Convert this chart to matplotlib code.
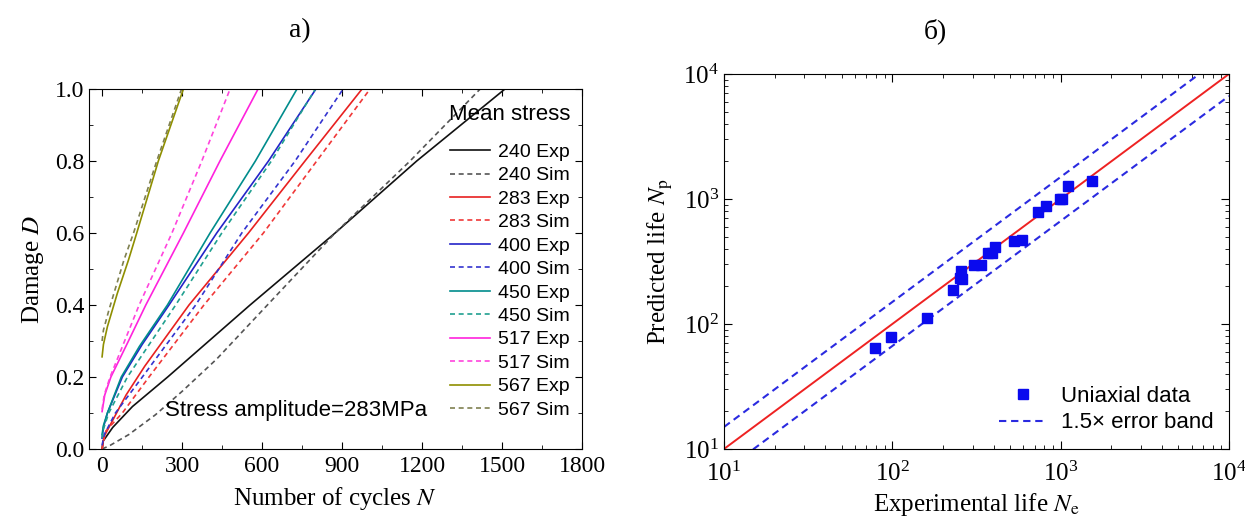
import matplotlib
matplotlib.use("Agg")
import matplotlib.pyplot as plt
import numpy as np
from matplotlib.ticker import MultipleLocator, LogLocator, NullFormatter

plt.rcParams['font.family'] = ['Liberation Serif', 'DejaVu Serif']
plt.rcParams['mathtext.fontset'] = 'stix'

# ---- panel a: damage curves (cycles N, damage D) ----
n_240_exp = [0, 4, 40, 114, 246, 555, 874, 1180, 1511]
d_240_exp = [0, 0.022, 0.06, 0.118, 0.2, 0.4, 0.6, 0.8, 1.0]
n_240_sim = [0, 30, 100, 200, 300, 430, 620, 874, 1155, 1418]
d_240_sim = [0, 0.01, 0.04, 0.095, 0.16, 0.25, 0.4, 0.6, 0.8, 1.0]
n_283_exp = [0, 7, 40, 90, 160, 326, 549, 761, 975]
d_283_exp = [0, 0.034, 0.08, 0.15, 0.23, 0.4, 0.6, 0.8, 1.0]
n_283_sim = [0, 14, 76, 176, 382, 605, 805, 1005]
d_283_sim = [0, 0.05, 0.1, 0.2, 0.4, 0.6, 0.8, 1.0]
n_400_exp = [0, 5, 20, 76, 150, 251, 430, 624, 802]
d_400_exp = [0.03, 0.06, 0.1, 0.2, 0.29, 0.4, 0.6, 0.8, 1.0]
n_400_sim = [0, 8, 50, 151, 351, 524, 724, 904]
d_400_sim = [0.01, 0.04, 0.1, 0.2, 0.4, 0.6, 0.8, 1.0]
n_450_exp = [0, 5, 20, 72, 140, 245, 405, 575, 731]
d_450_exp = [0.04, 0.065, 0.1, 0.2, 0.285, 0.4, 0.6, 0.8, 1.0]
n_450_sim = [0, 5, 25, 95, 276, 449, 635, 800]
d_450_sim = [0.03, 0.055, 0.1, 0.2, 0.4, 0.6, 0.8, 1.0]
n_517_exp = [0, 10, 33, 95, 164, 305, 442, 585]
d_517_exp = [0.104, 0.15, 0.2, 0.294, 0.4, 0.6, 0.8, 1.0]
n_517_sim = [0, 8, 30, 139, 262, 374, 480]
d_517_sim = [0.11, 0.15, 0.2, 0.4, 0.6, 0.8, 1.0]
n_567_exp = [0, 5, 20, 57, 99, 130, 211, 305]
d_567_exp = [0.256, 0.29, 0.34, 0.432, 0.525, 0.6, 0.8, 1.0]
n_567_sim = [0, 5, 26, 82, 118, 205, 298]
d_567_sim = [0.30, 0.33, 0.387, 0.525, 0.6, 0.8, 1.0]

# ---- panel b: predicted vs experimental life ----
exp_life = [79, 98, 160, 230, 252, 255, 258, 307, 336, 372, 389, 408,
            531, 587, 738, 819, 991, 1013, 1101, 1530]
pred_life = [64, 78, 112, 187, 232, 265, 228, 298, 298, 368, 368, 415,
             461, 470, 791, 884, 995, 995, 1271, 1400]

fig = plt.figure(figsize=(12.45, 5.18), dpi=100)
ax1 = fig.add_axes([0.0715, 0.1332, 0.396, 0.695])
ax2 = fig.add_axes([0.5815, 0.1332, 0.4056, 0.7239])

dash = (0, (3.0, 2.2))
series = [
    (n_240_exp, d_240_exp, '#111111', '-', '240 Exp'),
    (n_240_sim, d_240_sim, '#555555', dash, '240 Sim'),
    (n_283_exp, d_283_exp, '#e82020', '-', '283 Exp'),
    (n_283_sim, d_283_sim, '#f03838', dash, '283 Sim'),
    (n_400_exp, d_400_exp, '#2424c8', '-', '400 Exp'),
    (n_400_sim, d_400_sim, '#3434d0', dash, '400 Sim'),
    (n_450_exp, d_450_exp, '#008c8c', '-', '450 Exp'),
    (n_450_sim, d_450_sim, '#20a090', dash, '450 Sim'),
    (n_517_exp, d_517_exp, '#ff22dd', '-', '517 Exp'),
    (n_517_sim, d_517_sim, '#ff44dd', dash, '517 Sim'),
    (n_567_exp, d_567_exp, '#8f8f00', '-', '567 Exp'),
    (n_567_sim, d_567_sim, '#7f8050', dash, '567 Sim'),
]
for n, d, c, ls, lab in series:
    ax1.plot(n, d, color=c, linestyle=ls, lw=1.2, label=lab)

ax1.set_xlim(-49, 1800)
ax1.set_ylim(0, 1.0)
ax1.xaxis.set_major_locator(MultipleLocator(300))
ax1.xaxis.set_minor_locator(MultipleLocator(150))
ax1.yaxis.set_major_locator(MultipleLocator(0.2))
ax1.yaxis.set_minor_locator(MultipleLocator(0.1))
ax1.yaxis.set_major_formatter(matplotlib.ticker.FormatStrFormatter('%.1f'))
ax1.tick_params(which='both', direction='in', top=True, right=True, labelsize=17)
ax1.tick_params(axis='x', pad=5)
ax1.tick_params(which='major', length=5)
ax1.tick_params(which='minor', length=3)
ax1.set_xlabel('Number of cycles $N$', fontsize=18, labelpad=6)
ax1.set_ylabel('Damage $D$', fontsize=18, labelpad=6)

leg = ax1.legend(loc='upper right', bbox_to_anchor=(1.0, 0.99), frameon=False,
                 title='Mean stress', prop={'family': 'Liberation Sans', 'size': 14},
                 labelspacing=0.3, handlelength=2.1, handletextpad=0.4,
                 borderaxespad=0.2)
leg.get_title().set_fontfamily('Liberation Sans')
leg.get_title().set_fontsize(16)
leg._legend_box.sep = 13

ax1.text(236, 0.108, 'Stress amplitude=283MPa', family='Liberation Sans',
         fontsize=16, ha='left', va='center')

# panel b
lim = [10, 1e4]
ax2.plot(lim, lim, color='#ee2222', lw=1.4)
ax2.plot([10, 1e4], [15, 1.5e4], color='#2a2ae0', lw=1.5, linestyle=(0, (3.5, 2.3)),
         label='1.5\u00d7 error band')
ax2.plot([10, 1e4], [10 / 1.5, 1e4 / 1.5], color='#2a2ae0', lw=1.5, linestyle=(0, (3.5, 2.3)))
ax2.plot(exp_life, pred_life, 's', color='#0a0aee', ms=6.5, label='Uniaxial data')
ax2.set_xscale('log')
ax2.set_yscale('log')
ax2.set_xlim(10, 1e4)
ax2.set_ylim(10, 1e4)
for axis in (ax2.xaxis, ax2.yaxis):
    axis.set_major_locator(LogLocator(base=10))
    axis.set_minor_locator(LogLocator(base=10, subs=np.arange(2, 10)))
    axis.set_minor_formatter(NullFormatter())
ax2.tick_params(which='both', direction='in', top=True, right=True, labelsize=18)
ax2.tick_params(axis='x', pad=9)
ax2.tick_params(which='major', length=6)
ax2.tick_params(which='minor', length=3)
ax2.set_xlabel('Experimental life $N_\\mathrm{e}$', fontsize=18, labelpad=4)
ax2.set_ylabel('Predicted life $N_\\mathrm{p}$', fontsize=18, labelpad=6)

h, l = ax2.get_legend_handles_labels()
ax2.legend([h[1], h[0]], [l[1], l[0]], loc='lower right', frameon=False,
           prop={'family': 'Liberation Sans', 'size': 16}, numpoints=1,
           handlelength=2.2, handletextpad=0.6, labelspacing=0.25,
           borderaxespad=0.3)

fig.text(0.241, 0.94, '\u0430)', fontsize=20, ha='center', va='center')
fig.text(0.751, 0.94, '\u0431)', fontsize=20, ha='center', va='center')

fig.savefig('out.png', dpi=100)
